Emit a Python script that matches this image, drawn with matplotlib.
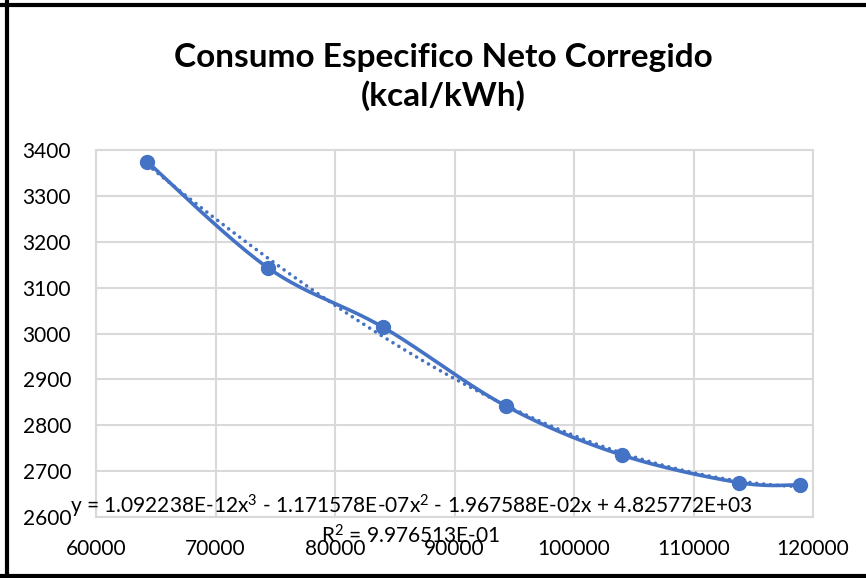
import numpy as np
import matplotlib
matplotlib.use("Agg")
import matplotlib.pyplot as plt
from matplotlib.lines import Line2D

# Data
potencia = [64300, 74400, 84000, 94300, 104000, 113800, 118900]
consumo = [3374, 3143, 3014, 2842, 2735, 2675, 2670]
x_ticks = [60000, 70000, 80000, 90000, 100000, 110000, 120000]
y_ticks = [2600, 2700, 2800, 2900, 3000, 3100, 3200, 3300, 3400]
title = "Consumo Especifico Neto Corregido\n(kcal/kWh)"
equation = r"y = 1.092238E-12x$^{3}$ - 1.171578E-07x$^{2}$ - 1.967588E-02x + 4.825772E+03"
r2_text = r"R$^{2}$ = 9.976513E-01"

color = "#4472C4"
plt.rcParams['font.family'] = ['Lato', 'DejaVu Sans']
plt.rcParams['mathtext.fontset'] = 'custom'
plt.rcParams['mathtext.rm'] = 'Lato'
plt.rcParams['mathtext.it'] = 'Lato'
plt.rcParams['mathtext.default'] = 'rm'

fig = plt.figure(figsize=(8.66, 5.78), dpi=100)
ax = fig.add_axes([96/866, 1-517/578, (813-96)/866, (517-150)/578])

# Excel-like smoothed line (cubic Bezier through points)
xs = np.array(potencia, float)
ys = np.array(consumo, float)
n = len(xs)
cx, cy = [], []
for i in range(n - 1):
    p0 = np.array([xs[max(i-1, 0)], ys[max(i-1, 0)]])
    p1 = np.array([xs[i], ys[i]])
    p2 = np.array([xs[i+1], ys[i+1]])
    p3 = np.array([xs[min(i+2, n-1)], ys[min(i+2, n-1)]])
    c1 = p1 + (p2 - p0) / 6
    c2 = p2 - (p3 - p1) / 6
    t = np.linspace(0, 1, 40)[:, None]
    pts = (1-t)**3*p1 + 3*(1-t)**2*t*c1 + 3*(1-t)*t**2*c2 + t**3*p2
    cx.extend(pts[:, 0]); cy.extend(pts[:, 1])

ax.plot(cx, cy, color=color, lw=2.6, zorder=3, solid_capstyle='round')
ax.plot(xs, ys, 'o', color=color, ms=10, zorder=4)

# Polynomial trendline (order 3)
coef = np.polyfit(xs, ys, 3)
tx = np.linspace(xs.min(), xs.max(), 300)
ax.plot(tx, np.polyval(coef, tx), color=color, lw=2.6, ls=(0, (0.01, 1.9)),
        dash_capstyle='round', zorder=2)

ax.set_xlim(60000, 120000)
ax.set_ylim(2600, 3400)
ax.set_xticks(x_ticks)
ax.set_yticks(y_ticks)
ax.tick_params(length=0, labelsize=15, colors='black')
ax.tick_params(axis='y', pad=18)
ax.tick_params(axis='x', pad=16)
ax.grid(True, color='#D9D9D9', lw=1.5)
ax.set_axisbelow(True)
for s in ax.spines.values():
    s.set_color('#D9D9D9')
    s.set_linewidth(1.5)

fig.text(443/866, 1-77/578, title, ha='center', va='center', fontsize=24,
         fontweight='bold', linespacing=1.35)

fig.text(411/866, 1-506/578, equation, ha='center', va='center', fontsize=15)
fig.text(411/866, 1-536/578, r2_text, ha='center', va='center', fontsize=15)

# figure border
lw = 3
fig.add_artist(Line2D([6.5/866, 6.5/866], [0, 1], transform=fig.transFigure, color='black', lw=lw))
fig.add_artist(Line2D([0, 1], [1-5/578, 1-5/578], transform=fig.transFigure, color='black', lw=lw))
fig.add_artist(Line2D([0, 1], [1-576/578, 1-576/578], transform=fig.transFigure, color='black', lw=lw))

fig.savefig("out.png", dpi=100, facecolor='white')
